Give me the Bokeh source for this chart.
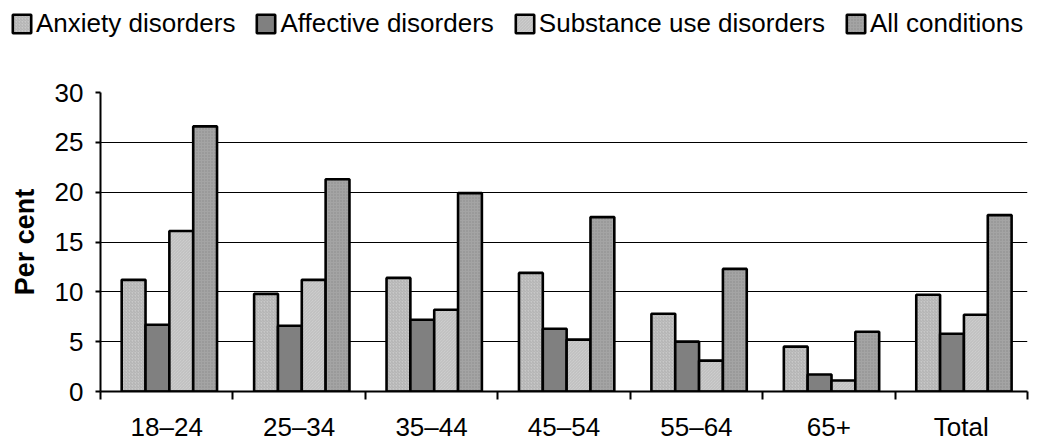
from bokeh.plotting import figure
from bokeh.models import Range1d, FixedTicker, Legend, LegendItem, ColumnDataSource
from bokeh.embed import file_html
from bokeh.resources import INLINE

categories = ["18–24", "25–34", "35–44", "45–54", "55–64", "65+", "Total"]
anxiety = [11.2, 9.8, 11.4, 11.9, 7.8, 4.5, 9.7]
affective = [6.7, 6.6, 7.2, 6.3, 5.0, 1.7, 5.8]
substance = [16.1, 11.2, 8.2, 5.2, 3.1, 1.1, 7.7]
all_conditions = [26.6, 21.3, 19.9, 17.5, 12.3, 6.0, 17.7]
series_names = ["Anxiety disorders", "Affective disorders", "Substance use disorders", "All conditions"]
y_ticks = [0, 5, 10, 15, 20, 25, 30]

FONT = "Liberation Sans"
FS = "26px"

p = figure(width=1030, height=374, output_backend="svg", toolbar_location=None,
           x_range=Range1d(0, len(categories)), y_range=Range1d(0, 30),
           min_border_left=100, min_border_right=3, min_border_top=22, min_border_bottom=52)
p.outline_line_color = None
p.background_fill_color = "white"
p.border_fill_color = "white"

series = [anxiety, affective, substance, all_conditions]
fills = ["#c8c8c8", "#808080", "#d4d4d4", "#a4a4a4"]
hatches = [("right_diagonal_line", "#b0b0b0"), (None, None), ("left_diagonal_line", "#bcbcbc"), ("dot", "#8c8c8c")]
bar_w = 0.18
center = 0.52


def style(k):
    kw = dict(fill_color=fills[k], line_color="black", line_width=2.6)
    hp, hc = hatches[k]
    if hp:
        kw.update(hatch_pattern=hp, hatch_color=hc, hatch_scale=3, hatch_weight=1)
    return kw


for k, vals in enumerate(series):
    xs = [i + center + (k - 1.5) * bar_w for i in range(len(categories))]
    src = ColumnDataSource(dict(x=xs, top=vals))
    p.vbar(x="x", top="top", bottom=0, width=bar_w, source=src, **style(k))

# grid
p.xgrid.visible = False
p.ygrid.ticker = FixedTicker(ticks=y_ticks)
p.ygrid.grid_line_color = "black"
p.ygrid.grid_line_width = 1

# y axis
ya = p.yaxis[0]
ya.ticker = FixedTicker(ticks=y_ticks)
ya.axis_line_width = 2
ya.major_tick_line_width = 2
ya.major_tick_out = 5
ya.major_tick_in = 0
ya.minor_tick_line_color = None
ya.major_label_text_font = FONT
ya.major_label_text_font_size = FS
ya.major_label_text_color = "black"
ya.major_label_standoff = 12
ya.axis_label = "Per cent"
ya.axis_label_text_font = FONT
ya.axis_label_text_font_style = "bold"
ya.axis_label_text_font_size = "27px"
ya.axis_label_text_color = "black"
ya.axis_label_standoff = 12

# x axis
xa = p.xaxis[0]
xa.ticker = FixedTicker(ticks=[i + 0.5 for i in range(len(categories))],
                        minor_ticks=list(range(len(categories) + 1)))
xa.major_label_overrides = {i + 0.5: c for i, c in enumerate(categories)}
xa.axis_line_width = 2
xa.major_tick_out = 0
xa.major_tick_in = 0
xa.minor_tick_out = 8
xa.minor_tick_in = 0
xa.minor_tick_line_width = 2
xa.major_label_text_font = FONT
xa.major_label_text_font_size = FS
xa.major_label_text_color = "black"
xa.major_label_standoff = 12

# legend strip above the chart (separate root so its frame spans the full width)
lg = figure(width=1030, height=70, output_backend="svg", toolbar_location=None,
            x_range=Range1d(0, 1), y_range=Range1d(0, 1),
            x_axis_location=None, y_axis_location=None, min_border=0)
lg.outline_line_color = None
lg.grid.visible = False
lg.border_fill_color = "white"
lg.background_fill_color = "white"
items = []
for k, name in enumerate(series_names):
    r = lg.vbar(x=[0.5], top=[0.5], width=0.1, visible=False, **style(k))
    items.append(LegendItem(label=name, renderers=[r]))
legend = Legend(items=items, orientation="horizontal", location=(10, 31),
                label_text_font=FONT, label_text_font_size=FS, label_text_color="black",
                glyph_width=23, glyph_height=23, label_standoff=3, spacing=19,
                padding=0, margin=0, border_line_color=None, background_fill_alpha=0)
lg.add_layout(legend, "center")

open("out.html", "w").write(file_html([lg, p], INLINE))
